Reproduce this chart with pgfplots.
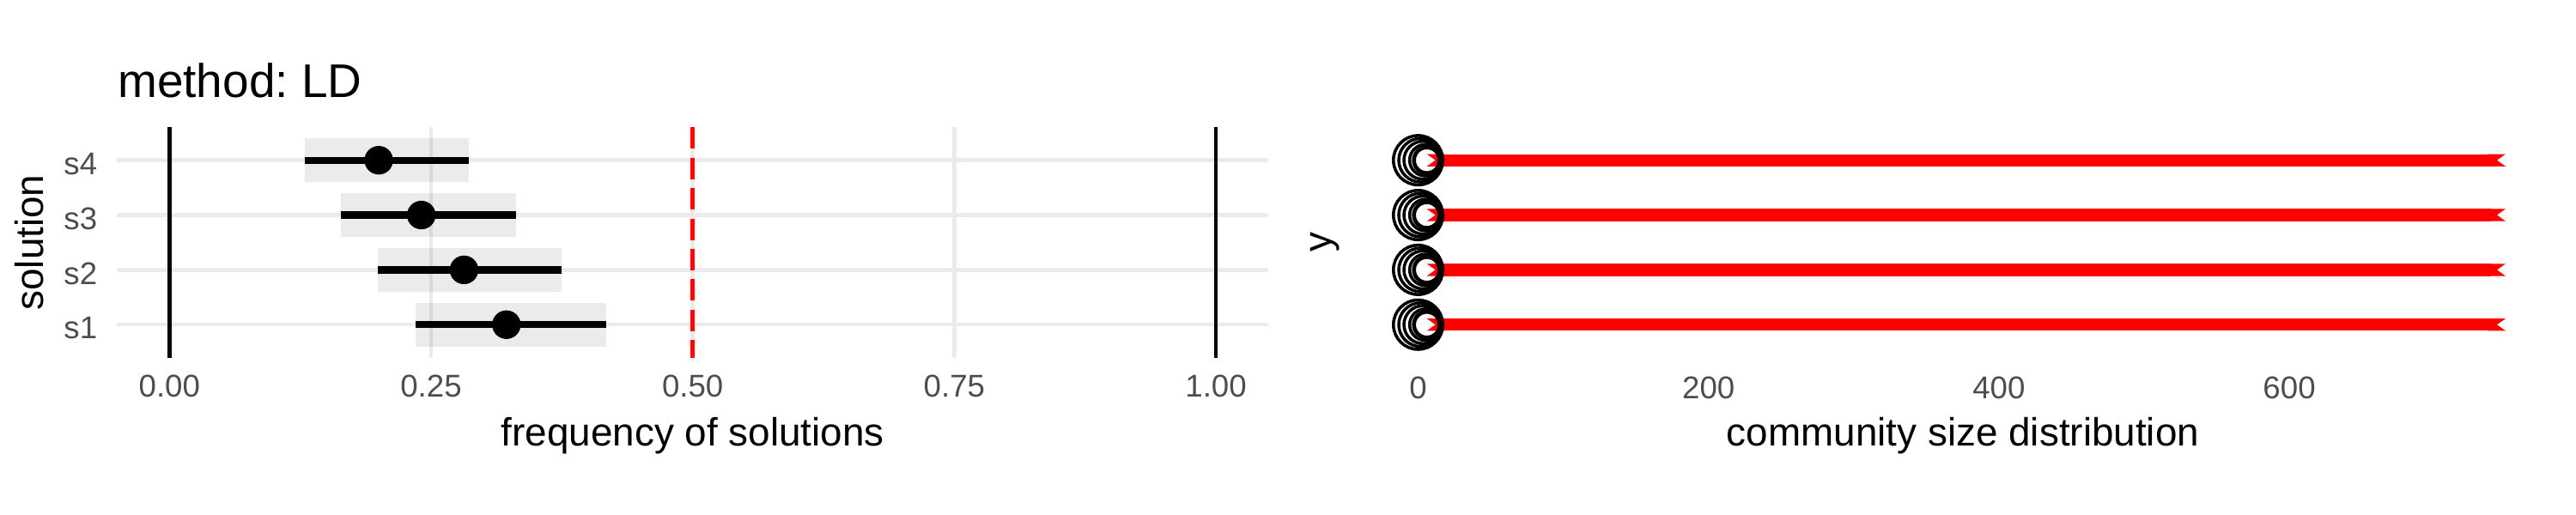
\documentclass[border=0pt]{standalone}
\usepackage{fontspec}
\setmainfont{Liberation Sans}
\usepackage{pgfplots}
\pgfplotsset{compat=1.18}
\usetikzlibrary{arrows.meta}
\definecolor{gridgray}{HTML}{EBEBEB}
\definecolor{ticktext}{HTML}{4D4D4D}
\pgfplotsset{
  ggbase/.style={
    scale only axis, anchor=south west,
    axis line style={draw=none}, major tick length=0pt, tick style={draw=none},
    ymin=0.4, ymax=4.6, height=64.37pt,
    ticklabel style={font=\fontsize{8.8}{10}\selectfont, text=ticktext, inner sep=0pt},
    every axis x label/.style={at={(axis description cs:0.5,-0.3837)}, anchor=base, inner sep=0pt, font=\fontsize{11}{13}\selectfont},
  },
}
\frenchspacing
\begin{document}
\begin{tikzpicture}
\useasboundingbox (0,0) rectangle (720pt,144pt);
% ---------------- left panel ----------------
\begin{axis}[ggbase,
  at={(32.74pt,44.02pt)}, width=321.74pt,
  xmin=-0.05, xmax=1.05,
  xtick={0,0.25,0.5,0.75,1}, xticklabels={0.00,0.25,0.50,0.75,1.00},
  ytick={1,2,3,4}, yticklabels={s1,s2,s3,s4},
  xmajorgrids, ymajorgrids, grid style={gridgray, line width=1.07pt},
  xticklabel style={anchor=base, yshift=-10.97pt},
  yticklabel style={anchor=east, xshift=-5.38pt, yshift=-1pt},
  title={method:\ LD},
  every axis title/.style={at={(axis description cs:0,1.1309)}, anchor=base west, inner sep=0pt, font=\fontsize{13.2}{15}\selectfont},
  xlabel={frequency of solutions},
  ylabel={solution},
  every axis y label/.style={at={(axis description cs:-0.06445,0.5)}, rotate=90, anchor=base, inner sep=0pt, font=\fontsize{11}{13}\selectfont},
]
% interval boxes
\addplot[draw=none, fill=black, fill opacity=0.08] coordinates {(0.2352,0.6) (0.4174,0.6) (0.4174,1.4) (0.2352,1.4)};
\addplot[draw=none, fill=black, fill opacity=0.08] coordinates {(0.1991,1.6) (0.3750,1.6) (0.3750,2.4) (0.1991,2.4)};
\addplot[draw=none, fill=black, fill opacity=0.08] coordinates {(0.1638,2.6) (0.3310,2.6) (0.3310,3.4) (0.1638,3.4)};
\addplot[draw=none, fill=black, fill opacity=0.08] coordinates {(0.1294,3.6) (0.2860,3.6) (0.2860,4.4) (0.1294,4.4)};
% reference lines
\addplot[black, line width=1.1pt] coordinates {(0,4.6) (0,0.4)};
\addplot[black, line width=1.1pt] coordinates {(1,4.6) (1,0.4)};
\addplot[red, line width=1.07pt, dash pattern=on 6pt off 2.5pt] coordinates {(0.5,4.6) (0.5,0.4)};
% intervals
\addplot[black, line width=2pt] coordinates {(0.2352,1) (0.4174,1)};
\addplot[black, line width=2pt] coordinates {(0.1991,2) (0.3750,2)};
\addplot[black, line width=2pt] coordinates {(0.1638,3) (0.3310,3)};
\addplot[black, line width=2pt] coordinates {(0.1294,4) (0.2860,4)};
% point estimates
\addplot[only marks, mark=*, mark size=3.8pt, black] coordinates {(0.3220,1) (0.2815,2) (0.2407,3) (0.2000,4)};
\end{axis}
% ---------------- right panel ----------------
\begin{axis}[ggbase,
  at={(381.15pt,44.02pt)}, width=335pt,
  xmin=-37.5, xmax=788,
  xtick={0,200,400,600}, xticklabels={0,200,400,600},
  ytick=\empty,
  xticklabel style={anchor=base, yshift=-11.6pt},
  xlabel={community size distribution},
  ylabel={y},
  every axis y label/.style={at={(axis description cs:-0.0273,0.5)}, rotate=90, anchor=base, inner sep=0pt, font=\fontsize{11}{13}\selectfont},
]
\addplot[only marks, mark=o, mark size=6.9pt, line width=0.85pt, black] coordinates {(0,1) (0,2) (0,3) (0,4)};
\addplot[only marks, mark=o, mark size=6.1pt, line width=0.85pt, black] coordinates {(1.7,1) (1.7,2) (1.7,3) (1.7,4)};
\addplot[only marks, mark=o, mark size=5.3pt, line width=0.85pt, black] coordinates {(3.3,1) (3.3,2) (3.3,3) (3.3,4)};
\addplot[only marks, mark=o, mark size=4.4pt, line width=0.85pt, black] coordinates {(5,1) (5,2) (5,3) (5,4)};
\addplot[only marks, mark=o, mark size=3.6pt, line width=1.1pt, black] coordinates {(6,1) (6,2) (6,3) (6,4)};
\addplot[red, line width=3.43pt, {Triangle Cap[reversed,length=2.4pt]}-{Triangle Cap[reversed,length=2.4pt]}] coordinates {(6,1) (749,1)};
\addplot[red, line width=3.43pt, {Triangle Cap[reversed,length=2.4pt]}-{Triangle Cap[reversed,length=2.4pt]}] coordinates {(6,2) (749,2)};
\addplot[red, line width=3.43pt, {Triangle Cap[reversed,length=2.4pt]}-{Triangle Cap[reversed,length=2.4pt]}] coordinates {(6,3) (749,3)};
\addplot[red, line width=3.43pt, {Triangle Cap[reversed,length=2.4pt]}-{Triangle Cap[reversed,length=2.4pt]}] coordinates {(6,4) (749,4)};
\end{axis}
\end{tikzpicture}
\end{document}
